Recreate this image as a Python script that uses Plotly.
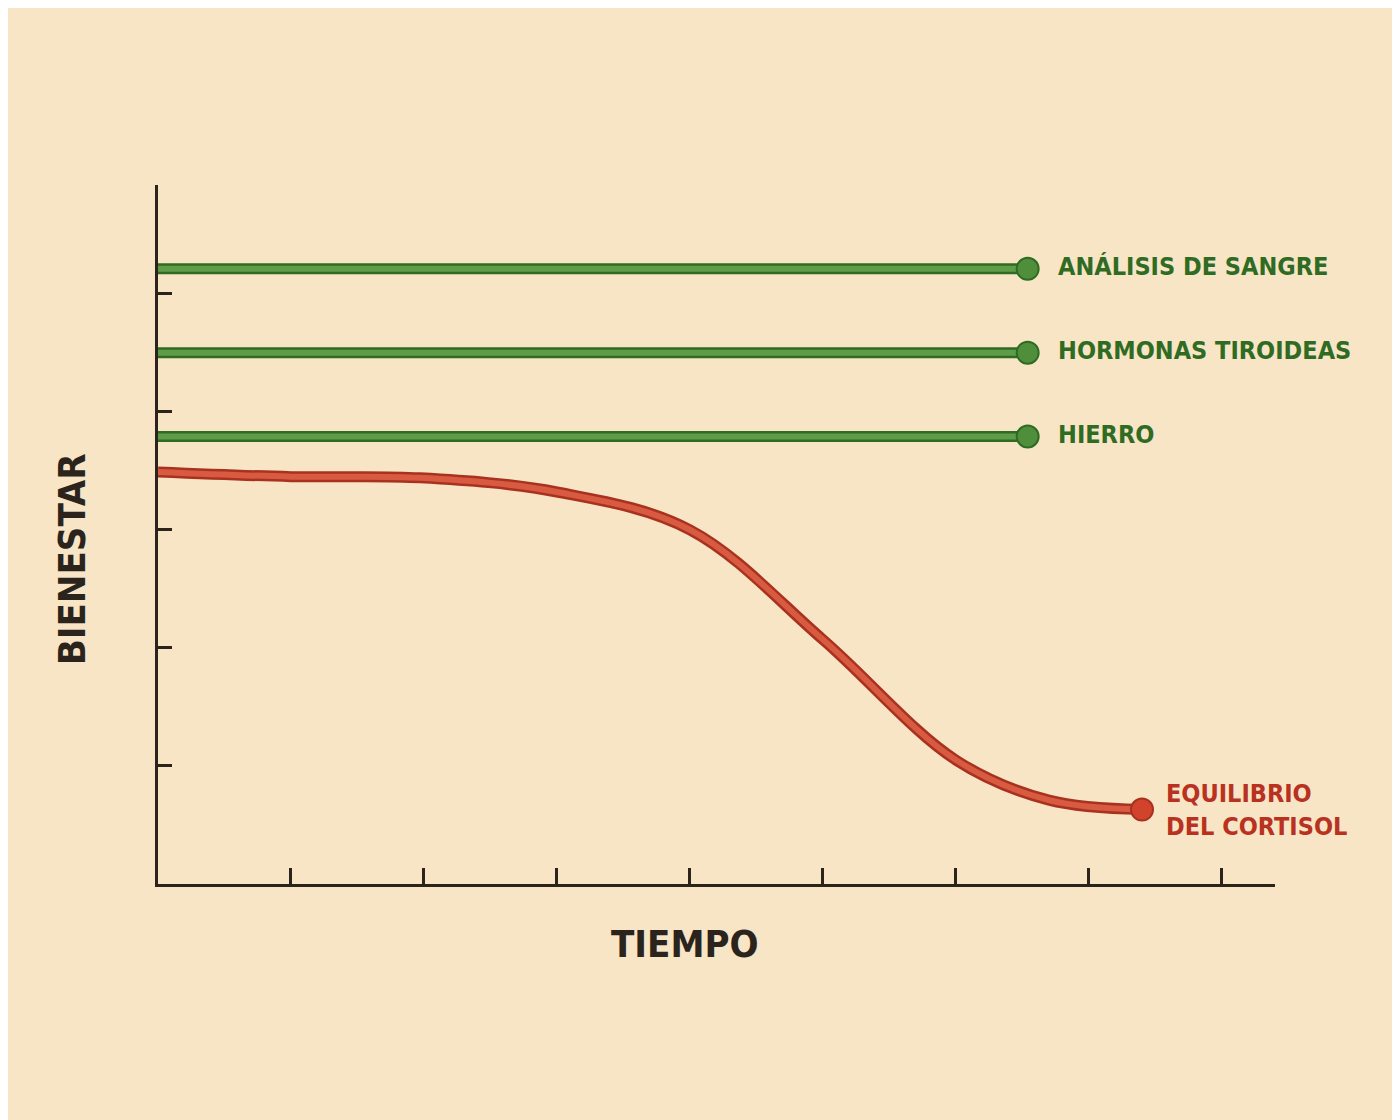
import plotly.graph_objects as go

green_names = ["ANÁLISIS DE SANGRE", "HORMONAS TIROIDEAS", "HIERRO"]
green_levels = [5.21, 4.50, 3.79]
green_x = [0, 6.54]

red_name = "EQUILIBRIO<br>DEL CORTISOL"
red_x = [0, 1.0, 1.97, 3.0, 4.0, 5.0, 6.0, 6.7, 7.4]
red_y = [3.49, 3.45, 3.44, 3.32, 3.0, 2.07, 1.05, 0.71, 0.63]

x_ticks = [1, 2, 3, 4, 5, 6, 7, 8]
y_ticks = [1, 2, 3, 4, 5]

GREEN = "#2f6b22"
INK = "#2b241c"
FONT = "DejaVu Sans Condensed"

fig = go.Figure()
for name, lvl in zip(green_names, green_levels):
    fig.add_trace(go.Scatter(x=green_x, y=[lvl, lvl], mode="lines",
                             line=dict(color="#2f6b22", width=11), hoverinfo="skip"))
    fig.add_trace(go.Scatter(x=green_x, y=[lvl, lvl], mode="lines",
                             line=dict(color="#5f9c48", width=6), hoverinfo="skip"))
    fig.add_trace(go.Scatter(x=[green_x[-1]], y=[lvl], mode="markers+text", cliponaxis=False,
                             marker=dict(color="#4f8f3c", size=22, line=dict(color="#2f6b22", width=2)),
                             text=["  " + name], textposition="middle right",
                             textfont=dict(color=GREEN, size=25, family=FONT, weight="bold")))

fig.add_trace(go.Scatter(x=red_x, y=red_y, mode="lines", line=dict(color="#a8321f", width=11, shape="spline"), hoverinfo="skip"))
fig.add_trace(go.Scatter(x=red_x, y=red_y, mode="lines", line=dict(color="#d85a40", width=6, shape="spline"), hoverinfo="skip"))
fig.add_trace(go.Scatter(x=[red_x[-1]], y=[red_y[-1]], mode="markers", cliponaxis=False,
                         marker=dict(color="#d2432e", size=22, line=dict(color="#a8321f", width=2))))
fig.add_annotation(x=red_x[-1], y=red_y[-1], text=red_name, showarrow=False,
                   xanchor="left", xshift=22, align="left",
                   font=dict(color="#b8321f", size=25, family=FONT, weight="bold"))

fig.add_annotation(x=3.96, y=0, yref="y", text="TIEMPO", showarrow=False, yanchor="top", yshift=-36,
                   font=dict(size=38, color=INK, family=FONT, weight="bold"))
fig.add_annotation(x=0, y=2.75, text="BIENESTAR", showarrow=False, textangle=-90, xanchor="right", xshift=-62,
                   font=dict(size=38, color=INK, family=FONT, weight="bold"))

fig.update_layout(
    width=1392, height=1112, showlegend=False,
    paper_bgcolor="#f7e5c6", plot_bgcolor="rgba(0,0,0,0)",
    margin=dict(l=150, r=125, t=177, b=236),
    xaxis=dict(range=[0, 8.4], tickvals=x_ticks, ticks="inside", ticklen=16, tickwidth=2.5,
               tickcolor=INK, showticklabels=False, showgrid=False, zeroline=False,
               showline=True, linecolor=INK, linewidth=3),
    yaxis=dict(range=[0, 5.92], tickvals=y_ticks, ticks="inside", ticklen=14, tickwidth=2.5,
               tickcolor=INK, showticklabels=False, showgrid=False, zeroline=False,
               showline=True, linecolor=INK, linewidth=3),
)
fig.write_html("out.html")
